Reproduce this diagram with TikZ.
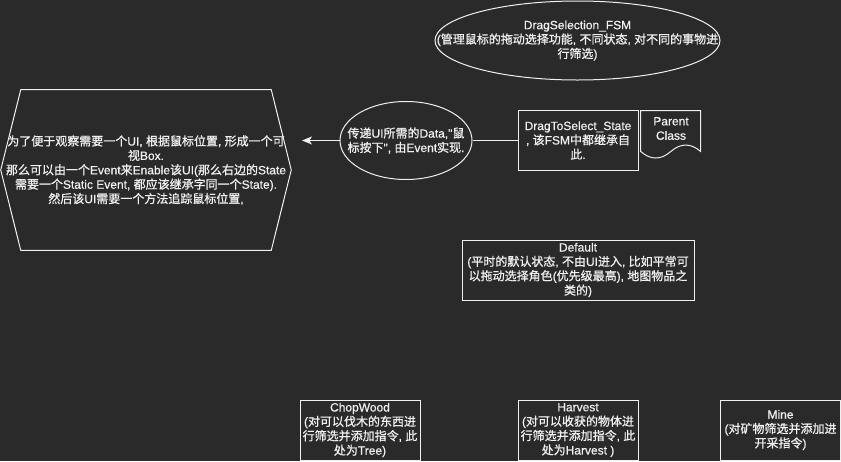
\documentclass[tikz,border=0pt]{standalone}
\usepackage{fontspec}
\setmainfont{Liberation Sans}[FakeBold=0.4]
\newfontfamily\latinfont{Liberation Sans}[RawFeature={embolden=0.6}]
\newfontfamily\cjkfont{Noto Sans CJK SC}[RawFeature={embolden=0.9}]
\usetikzlibrary{shapes.geometric,arrows.meta,calc}

% Han characters and full-width punctuation are set in the CJK family,
% everything else in Liberation Sans; the switch happens automatically.
\XeTeXinterchartokenstate=1
\newcount\hancode
\hancode="2E80
\loop
  \XeTeXcharclass\hancode=7
  \advance\hancode by 1
\ifnum\hancode<"A000 \repeat
\hancode="FF00
\loop
  \XeTeXcharclass\hancode=7
  \advance\hancode by 1
\ifnum\hancode<"FFF0 \repeat
\XeTeXinterchartoks 0 7 = {\cjkfont}
\XeTeXinterchartoks 4095 7 = {\cjkfont}
\XeTeXinterchartoks 7 0 = {\latinfont}
\XeTeXinterchartoks 7 4095 = {\latinfont}

\definecolor{bg}{HTML}{2A2A2A}
\definecolor{fg}{HTML}{F0F0F0}

\begin{document}
\begin{tikzpicture}[x=0.75pt,y=-0.75pt,
  outline/.style={draw=fg, line width=0.75pt},
  txt/.style={text=fg, font=\latinfont\fontsize{9}{10.8}\selectfont, align=center, inner sep=0pt},
  box/.style={outline, fill=bg, rectangle, txt},
  oval/.style={outline, fill=bg, ellipse, inner sep=0pt},
  frame/.style={rectangle, inner sep=0pt}]

% canvas
\fill[bg] (0,0) rectangle (841,461);
\useasboundingbox (0,0) rectangle (841,461);

% state machine title
\node[oval, minimum width=213.75pt, minimum height=59.25pt] (fsm) at (577.5,40.5) {};
\node[txt] (fsmtext) at (fsm.center) {DragSelection\_FSM\\(管理鼠标的拖动选择功能, 不同状态, 对不同的事物进\\行筛选)};

% selection box UI (hexagon)
\node[frame, minimum width=217.5pt, minimum height=120pt] (hex) at (146,170) {};
\draw[outline, fill=bg] (hex.west) -- ($(hex.north west)+(20,0)$) -- ($(hex.north east)+(-20,0)$)
  -- (hex.east) -- ($(hex.south east)+(-20,0)$) -- ($(hex.south west)+(20,0)$) -- cycle;
\node[txt] (hextext) at (hex.center) {为了便于观察需要一个UI, 根据鼠标位置, 形成一个可\\视Box.\\那么可以由一个Event来Enable该UI(那么右边的State\\需要一个Static Event, 都应该继承字同一个State).\\然后该UI需要一个方法追踪鼠标位置,};

% data passed to the UI
\node[oval, minimum width=99pt, minimum height=58.5pt] (ui) at (406,140.5) {};
\node[txt] (uitext) at (ui.center) {传递UI所需的Data,"鼠\\标按下", 由Event实现.};

% base state
\node[box, minimum width=90pt, minimum height=45pt] (state) at (578,140.5) {DragToSelect\_State\\, 该FSM中都继承自\\此.};

% document note
\node[frame, minimum width=45pt, minimum height=36pt] (doc) at (671,135) {};
\begin{scope}[shift={(doc.north west)}]
  \draw[outline, fill=bg] (0,0) -- (60,0) -- (60,40.8)
    .. controls (50,32.16) and (40,32.16) .. (30,40.8)
    .. controls (20,49.44) and (10,49.44) .. (0,40.8) -- cycle;
\end{scope}
\node[txt] (doctext) at (671,128.5) {Parent\\Class};

% default state
\node[box, minimum width=174pt, minimum height=45pt] (default) at (578,270) {Default\\(平时的默认状态, 不由UI进入, 比如平常可\\以拖动选择角色(优先级最高), 地图物品之\\类的)};

% concrete states
\node[box, minimum width=90pt, minimum height=45pt] (chop) at (360,430) {ChopWood\\(对可以伐木的东西进\\行筛选并添加指令, 此\\处为Tree)};
\node[box, minimum width=90pt, minimum height=45pt] (harvest) at (578,430) {Harvest\\(对可以收获的物体进\\行筛选并添加指令, 此\\处为Harvest )};
\node[box, minimum width=90pt, minimum height=45pt] (mine) at (780.5,430) {Mine\\(对矿物筛选并添加进\\开采指令)};

% connectors
\coordinate (tip) at (302,140.5);
\draw[outline, -{Stealth[length=7.5pt,width=6pt,inset=2pt]}] (ui.west) -- (tip);
\draw[outline] (ui.east) -- (state.west);
\end{tikzpicture}
\end{document}
